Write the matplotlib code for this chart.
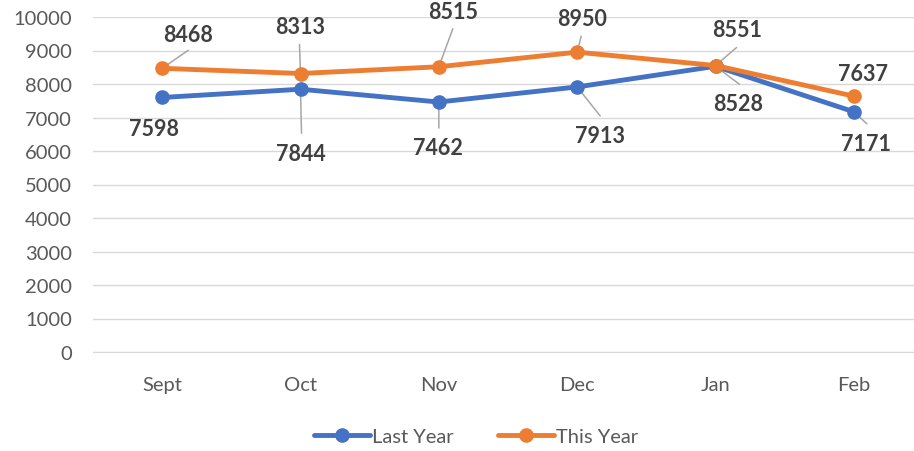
import matplotlib
matplotlib.use('Agg')
import matplotlib.pyplot as plt

plt.rcParams['font.family'] = ['Lato', 'DejaVu Sans']

months = ['Sept', 'Oct', 'Nov', 'Dec', 'Jan', 'Feb']
last_year = [7598, 7844, 7462, 7913, 8528, 7171]
this_year = [8468, 8313, 8515, 8950, 8551, 7637]

# label placement relative to the point, in pixels (dx right, dy up),
# plus where the grey leader line stops (None = no leader)
last_lbl = [(-8, -31), (0, -64), (-1, -45), (23, -49), (23, -37), (12, -32)]
last_lead = [None, (1, -44), (0, -26), (23, -29), (24, -18), (13, -12)]
this_lbl = [(26, 34), (0, 47), (14, 55), (5, 34), (22, 36), (9, 23)]
this_lead = [(26, 18), (-1, 29), (14, 38), (4, 16), (21, 18), None]

blue = '#4472C4'
orange = '#ED7D31'
grey_txt = '#595959'
lbl_col = '#404040'
lead_col = '#A6A6A6'

fig = plt.figure(figsize=(9.14, 4.52), dpi=100)
ax = fig.add_axes([93/914, 99/452, 830/914, 335/452])

x = list(range(len(months)))
ax.plot(x, last_year, color=blue, lw=3.5, marker='o', ms=9.5, label='Last Year',
        solid_capstyle='round', zorder=3)
ax.plot(x, this_year, color=orange, lw=3.5, marker='o', ms=9.5, label='This Year',
        solid_capstyle='round', zorder=3)

px = 0.72  # pixels -> points at 100 dpi
for series, lbls, leads in [(last_year, last_lbl, last_lead), (this_year, this_lbl, this_lead)]:
    for i, v in enumerate(series):
        dx, dy = lbls[i]
        ax.annotate(str(v), (i, v), xytext=(dx*px, dy*px), textcoords='offset points',
                    ha='center', va='center', fontsize=15.5, fontweight='bold',
                    color=lbl_col, zorder=4)
        if leads[i] is not None:
            lx, ly = leads[i]
            ax.annotate('', (i, v), xytext=(lx*px, ly*px), textcoords='offset points',
                        arrowprops=dict(arrowstyle='-', color=lead_col, lw=1.1,
                                        shrinkA=0, shrinkB=0), zorder=2)

ax.set_xlim(-0.5, 5.5)
ax.set_ylim(0, 10000)
ax.set_yticks(range(0, 10001, 1000))
ax.set_xticks(x)
ax.set_xticklabels(months)
ax.grid(axis='y', color='#D9D9D9', lw=1.0)
ax.set_axisbelow(True)
for s in ax.spines.values():
    s.set_visible(False)
ax.spines['bottom'].set_visible(True)
ax.spines['bottom'].set_color('#D9D9D9')
ax.tick_params(axis='both', length=0, labelsize=14.5, labelcolor=grey_txt)
ax.tick_params(axis='y', pad=15)
ax.tick_params(axis='x', pad=17)

leg = fig.legend(loc='center', bbox_to_anchor=(476/914, 1 - 437/452), ncol=2,
                 frameon=False, fontsize=14.5, handlelength=2.8, handletextpad=0.1,
                 columnspacing=2.2, labelcolor=grey_txt)

fig.savefig('out.png', dpi=100)
